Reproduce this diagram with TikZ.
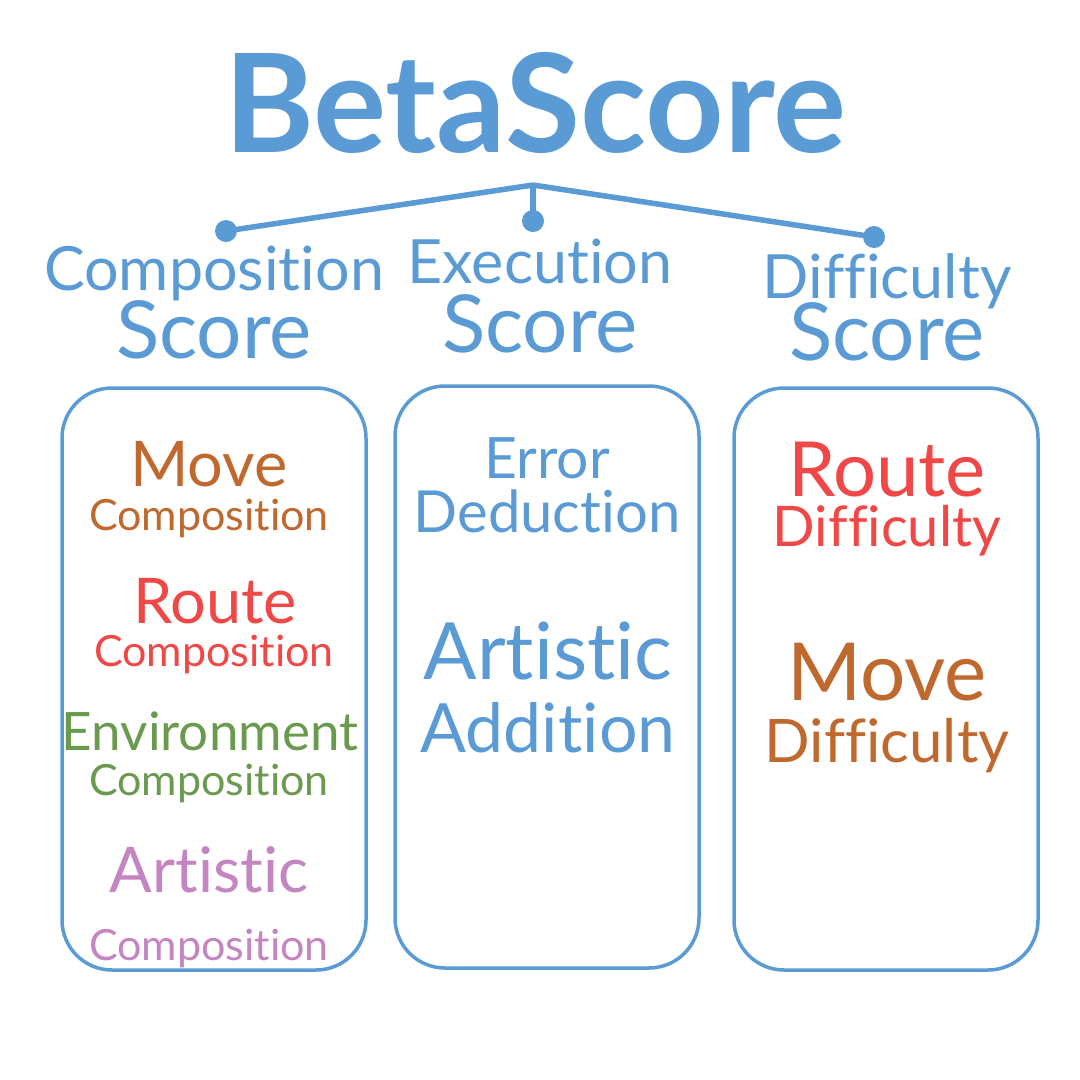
\documentclass[tikz,border=0pt]{standalone}
\usepackage{fontspec}
\setmainfont{Lato}[Ligatures=NoCommon]
\usetikzlibrary{positioning}
\definecolor{bsblue}{HTML}{5B9BD5}
\definecolor{bsbrown}{HTML}{C0692F}
\definecolor{bsred}{HTML}{F04747}
\definecolor{bsgreen}{HTML}{6A9A4E}
\definecolor{bspink}{HTML}{C585C0}
\newcommand{\fsz}[1]{\fontsize{#1}{#1}\selectfont}

\begin{document}
\begin{tikzpicture}[x=1pt, y=-1pt,
    lbl/.style={anchor=base, inner sep=0pt},
    panel/.style={draw=bsblue, line width=3.5pt, rounded corners=50pt,
                  minimum width=304pt, minimum height=582pt},
    dot/.style={circle, fill=bsblue, inner sep=0pt, minimum size=22pt},
    link/.style={bsblue, line width=5.5pt}]
  \useasboundingbox (0,0) rectangle (1080,1080);

  \node[lbl, font=\bfseries\fsz{137}, text=bsblue] (title) at (535,152) {BetaScore};

  % tree under the title
  \coordinate (apex) at (533,185);
  \node[dot] (dcomp) at (226,231) {};
  \node[dot] (dexec) at (533,221) {};
  \node[dot] (ddiff) at (874,237) {};
  \foreach \d in {dcomp,dexec,ddiff} \draw[link] (apex) -- (\d.center);

  % score headings
  \node[lbl, font=\fsz{61}, text=bsblue] (hcomp) at (214,290) {Composition};
  \node[lbl, font=\fsz{80}, text=bsblue] (scomp) at (214,358) {Score};
  \node[lbl, font=\fsz{61}, text=bsblue] (hexec) at (540,283) {Execution};
  \node[lbl, font=\fsz{80}, text=bsblue] (sexec) at (540,352) {Score};
  \node[lbl, font=\fsz{61}, text=bsblue] (hdiff) at (887,298) {Difficulty};
  \node[lbl, font=\fsz{80}, text=bsblue] (sdiff) at (887,360) {Score};

  % panels
  \node[panel] (pcomp) at (214,679) {};
  \node[panel] (pexec) at (547,677) {};
  \node[panel] (pdiff) at (886,679) {};

  % composition items
  \node[lbl, font=\fsz{63}, text=bsbrown] (mc1) at (209,486) {Move};
  \node[lbl, font=\fsz{43}, text=bsbrown] (mc2) at (209,530) {Composition};
  \node[lbl, font=\fsz{63}, text=bsred] (rc1) at (215,623) {Route};
  \node[lbl, font=\fsz{43}, text=bsred] (rc2) at (214,666) {Composition};
  \node[lbl, font=\fsz{53}, text=bsgreen] (ec1) at (210,750) {Environment};
  \node[lbl, font=\fsz{43}, text=bsgreen] (ec2) at (209,795) {Composition};
  \node[lbl, font=\fsz{63}, text=bspink] (ac1) at (209,892) {Artistic};
  \node[lbl, font=\fsz{43}, text=bspink] (ac2) at (209,960) {Composition};

  % execution items
  \node[lbl, font=\fsz{57}, text=bsblue] (ed1) at (547,478) {Error};
  \node[lbl, font=\fsz{58}, text=bsblue] (ed2) at (547,532) {Deduction};
  \node[lbl, font=\fsz{79}, text=bsblue] (aa1) at (548,679) {Artistic};
  \node[lbl, font=\fsz{68}, text=bsblue] (aa2) at (548,752) {Addition};

  % difficulty items
  \node[lbl, font=\fsz{76}, text=bsred] (rd1) at (887,496) {Route};
  \node[lbl, font=\fsz{56}, text=bsred] (rd2) at (887,546) {Difficulty};
  \node[lbl, font=\fsz{80}, text=bsbrown] (md1) at (887,700) {Move};
  \node[lbl, font=\fsz{60}, text=bsbrown] (md2) at (887,762) {Difficulty};
\end{tikzpicture}
\end{document}
